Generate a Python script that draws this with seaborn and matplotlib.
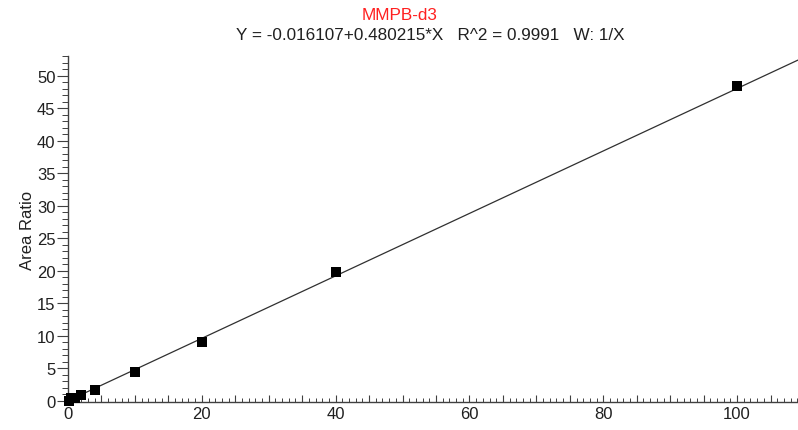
import numpy as np
import pandas as pd
import matplotlib
matplotlib.use("Agg")
import matplotlib.pyplot as plt
from matplotlib.ticker import MultipleLocator, FuncFormatter
import seaborn as sns

# Calibration standards: concentration vs. measured area ratio
concentration = [0.1, 0.5, 1, 2, 4, 10, 20, 40, 100]
area_ratio = [0.03, 0.37, 0.45, 0.88, 1.62, 4.37, 9.10, 19.75, 48.45]

# Weighted (1/X) linear fit reported for the curve
intercept = -0.016107
slope = 0.480215
r_squared = 0.9991
weighting = "1/X"
compound = "MMPB-d3"

sns.set_theme(style="white")
plt.rcParams["font.family"] = ["Liberation Sans", "DejaVu Sans"]

fig = plt.figure(figsize=(7.98, 4.31), dpi=100)
ax = fig.add_axes([68 / 798, 1 - 403 / 431, 730 / 798, 346 / 431])

x_max = 109.1
fit = pd.DataFrame({"x": [0.0, x_max]})
fit["y"] = intercept + slope * fit["x"]
sns.lineplot(data=fit, x="x", y="y", ax=ax, color="#303030", linewidth=0.9)

pts = pd.DataFrame({"conc": concentration, "ratio": area_ratio})
sns.scatterplot(data=pts, x="conc", y="ratio", ax=ax, marker="s", s=48,
                color="black", edgecolor="black", linewidth=0, zorder=5,
                clip_on=False)

ax.set_xlim(0, x_max)
ax.set_ylim(-0.2, 53.0)

for side in ("top", "right"):
    ax.spines[side].set_visible(False)
for side in ("left", "bottom"):
    ax.spines[side].set_color("#404040")
    ax.spines[side].set_linewidth(1.0)

ax.xaxis.set_major_locator(MultipleLocator(5))
ax.xaxis.set_minor_locator(MultipleLocator(1))
ax.xaxis.set_major_formatter(FuncFormatter(lambda v, p: f"{v:.0f}" if round(v) % 20 == 0 else ""))
ax.yaxis.set_major_locator(MultipleLocator(5))
ax.yaxis.set_minor_locator(MultipleLocator(1))
ax.yaxis.set_major_formatter(FuncFormatter(lambda v, p: f"{v:.0f}"))

ax.tick_params(axis="x", which="major", direction="in", length=5, width=0.8,
               color="#404040", labelsize=12, pad=3, bottom=True,
               labelcolor="#202020")
ax.tick_params(axis="x", which="minor", direction="in", length=3, width=0.7,
               color="#404040", bottom=True)
ax.tick_params(axis="y", which="major", direction="out", length=8, width=0.8,
               color="#404040", labelsize=12, pad=1, left=True,
               labelcolor="#202020")
ax.tick_params(axis="y", which="minor", direction="out", length=4, width=0.7,
               color="#404040", left=True)

ax.set_xlabel("")
ax.set_ylabel("Area Ratio", fontsize=12, color="#202020")
ax.yaxis.set_label_coords(-33 / 730, 0.5)

fig.text(400 / 798, 1 - 15 / 431, compound, color="#ff2020", fontsize=12.3,
         ha="center", va="center")
fig.text(430 / 798, 1 - 36 / 431,
         f"Y = {intercept:.6f}+{slope:.6f}*X   R^2 = {r_squared:.4f}   W: {weighting}",
         color="#202020", fontsize=12.3, ha="center", va="center")

fig.savefig("out.png", dpi=100)
